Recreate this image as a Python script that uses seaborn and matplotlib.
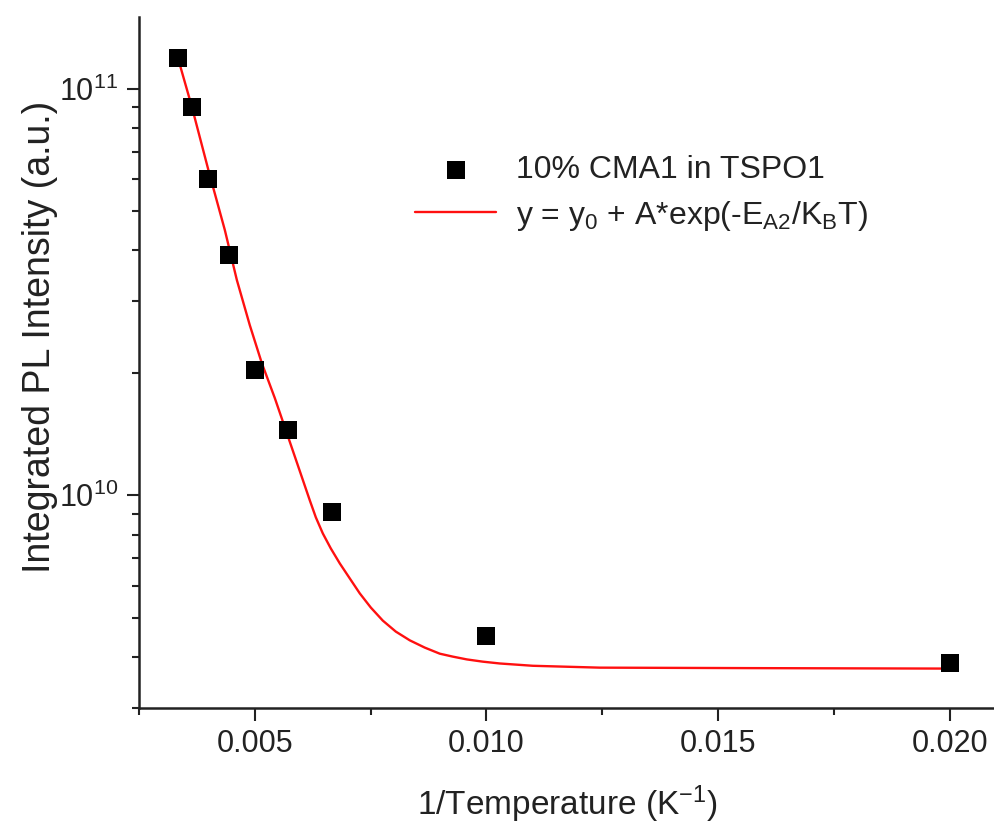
import numpy as np
import pandas as pd
import matplotlib
matplotlib.use("Agg")
import matplotlib.pyplot as plt
import matplotlib.ticker as mticker
import seaborn as sns

# ---- data ----
inv_temp = [0.003333, 0.003636, 0.004000, 0.004444, 0.005000, 0.005714, 0.006667, 0.010000, 0.020000]
intensity = [1.187e11, 9.01e10, 6.01e10, 3.894e10, 2.035e10, 1.448e10, 9.12e9, 4.51e9, 3.86e9]

fit_x = [0.003338, 0.003640, 0.004007, 0.004353, 0.004612, 0.004892, 0.005151, 0.005432,
         0.005647, 0.005928, 0.006187, 0.006317, 0.006468, 0.006640, 0.006835, 0.007050,
         0.007266, 0.007504, 0.007763, 0.008043, 0.008346, 0.008669, 0.008993, 0.009273,
         0.009576, 0.009921, 0.010288, 0.011000, 0.012446, 0.015684, 0.020000]
fit_y = [1.192e11, 9.03e10, 6.25e10, 4.49e10, 3.385e10, 2.62e10, 2.114e10, 1.734e10,
         1.471e10, 1.186e10, 9.72e9, 8.83e9, 8.06e9, 7.405e9, 6.80e9, 6.248e9,
         5.74e9, 5.298e9, 4.92e9, 4.624e9, 4.40e9, 4.223e9, 4.08e9, 4.013e9,
         3.95e9, 3.90e9, 3.86e9, 3.81e9, 3.77e9, 3.76e9, 3.75e9]

series_label = "10% CMA1 in TSPO1"
fit_label = r"y = y$_0$ + A*exp(-E$_{A2}$/K$_B$T)"
x_label = r"1/Temperature (K$^{-1}$)"
y_label = "Integrated PL Intensity (a.u.)"

sns.set_theme(style="ticks")
plt.rcParams["font.family"] = ["Liberation Sans", "DejaVu Sans"]
plt.rcParams["mathtext.fontset"] = "custom"
plt.rcParams["mathtext.rm"] = "Liberation Sans"
plt.rcParams["mathtext.it"] = "Liberation Sans"
plt.rcParams["mathtext.bf"] = "Liberation Sans:bold"
plt.rcParams["mathtext.default"] = "regular"

fig = plt.figure(figsize=(9.94, 8.25), dpi=100)
ax = fig.add_axes([139 / 994, 1 - 708 / 825, (996 - 139) / 994, (708 - 17) / 825])

df_pts = pd.DataFrame({"x": inv_temp, "y": intensity})
df_fit = pd.DataFrame({"x": fit_x, "y": fit_y})

sns.lineplot(data=df_fit, x="x", y="y", ax=ax, color="#ff1010", linewidth=1.7,
             label=fit_label, sort=False, estimator=None, zorder=2)
sns.scatterplot(data=df_pts, x="x", y="y", ax=ax, marker="s", s=13.5 ** 2,
                color="black", edgecolor="black", linewidth=0, label=series_label, zorder=3)

ax.set_yscale("log")
ax.set_xlim(0.0025, 0.021)
ax.set_ylim(3e9, 1.5e11)

ax.xaxis.set_major_locator(mticker.MultipleLocator(0.005))
ax.xaxis.set_minor_locator(mticker.MultipleLocator(0.0025))
ax.xaxis.set_major_formatter(mticker.FormatStrFormatter("%.3f"))
ax.yaxis.set_major_locator(mticker.LogLocator(base=10, numticks=10))
ax.yaxis.set_minor_locator(mticker.LogLocator(base=10, subs=np.arange(2, 10), numticks=20))
ax.yaxis.set_minor_formatter(mticker.NullFormatter())

for s in ["top", "right"]:
    ax.spines[s].set_visible(False)
for s in ["left", "bottom"]:
    ax.spines[s].set_linewidth(1.8)
    ax.spines[s].set_color("#222222")

ax.tick_params(axis="both", which="major", direction="out", length=9, width=1.5,
               color="#222222", labelsize=22, pad=6, labelcolor="#222222")
ax.tick_params(axis="both", which="minor", direction="out", length=5, width=1.5,
               color="#222222")

ax.set_xlabel(x_label, fontsize=24, color="#222222", labelpad=18)
ax.set_ylabel(y_label, fontsize=27, color="#222222")
ax.yaxis.set_label_coords(-0.095, 0.537)

handles, labels = ax.get_legend_handles_labels()
order = [labels.index(series_label), labels.index(fit_label)]
leg = ax.legend([handles[i] for i in order], [labels[i] for i in order],
                loc="upper left", bbox_to_anchor=(0.322, 0.80), frameon=False,
                fontsize=23, handlelength=2.55, handletextpad=0.6, labelspacing=0.42,
                borderpad=0, borderaxespad=0, markerscale=0.95)
for t in leg.get_texts():
    t.set_color("#222222")

fig.savefig("out.png", dpi=100)
